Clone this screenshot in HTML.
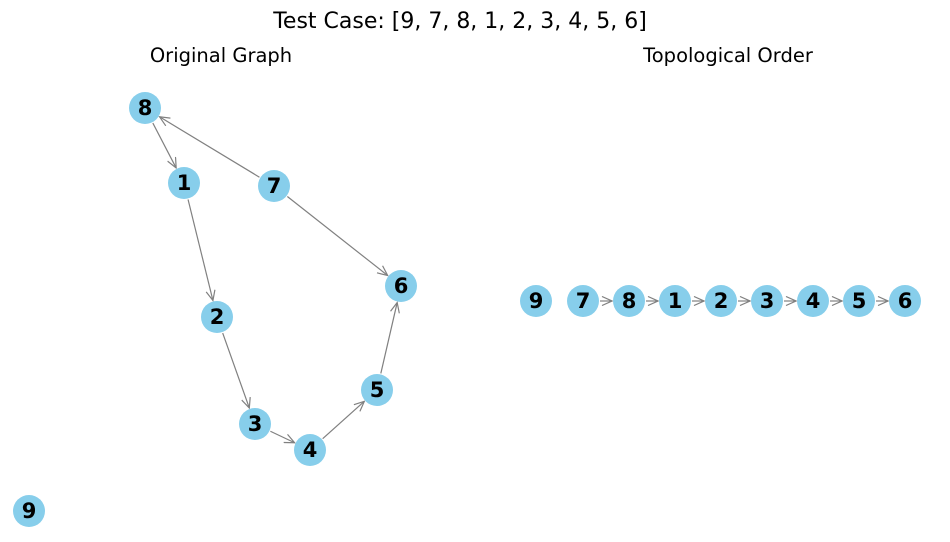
<!DOCTYPE html>
<html><head><meta charset="utf-8"><style>
html,body{margin:0;padding:0;background:#fff;}
svg{display:block;}
.n{fill:#87CEEB;}
.l{font-family:"DejaVu Sans","Liberation Sans",sans-serif;font-weight:bold;font-size:21px;text-anchor:middle;dominant-baseline:central;fill:#000;}
.t{font-family:"DejaVu Sans","Liberation Sans",sans-serif;text-anchor:middle;fill:#000;}
</style></head><body>
<svg id="s" width="950" height="542" viewBox="0 0 950 542" xmlns="http://www.w3.org/2000/svg">
<defs><marker id="a" markerWidth="12" markerHeight="10" refX="11" refY="5" orient="auto" markerUnits="userSpaceOnUse"><path d="M1,0.5 L11,5 L1,9.5" fill="none" stroke="#808080" stroke-width="1.2"/></marker></defs>
<text class="t" x="460" y="28" font-size="22">Test Case: [9, 7, 8, 1, 2, 3, 4, 5, 6]</text>
<text class="t" x="221" y="62" font-size="19.5">Original Graph</text>
<text class="t" x="728" y="62" font-size="19.5">Topological Order</text>
<g id="e"></g>
<g id="nodes">
<circle class="n" cx="145" cy="108" r="16"/><text class="l" x="145" y="108">8</text>
<circle class="n" cx="184" cy="183" r="16"/><text class="l" x="184" y="183">1</text>
<circle class="n" cx="274" cy="186" r="16"/><text class="l" x="274" y="186">7</text>
<circle class="n" cx="401" cy="286" r="16"/><text class="l" x="401" y="286">6</text>
<circle class="n" cx="217" cy="317" r="16"/><text class="l" x="217" y="317">2</text>
<circle class="n" cx="377" cy="390" r="16"/><text class="l" x="377" y="390">5</text>
<circle class="n" cx="255" cy="424" r="16"/><text class="l" x="255" y="424">3</text>
<circle class="n" cx="310" cy="450" r="16"/><text class="l" x="310" y="450">4</text>
<circle class="n" cx="29" cy="511" r="16"/><text class="l" x="29" y="511">9</text>
<circle class="n" cx="536" cy="301" r="16"/><text class="l" x="536" y="301">9</text>
<circle class="n" cx="583" cy="301" r="16"/><text class="l" x="583" y="301">7</text>
<circle class="n" cx="629" cy="301" r="16"/><text class="l" x="629" y="301">8</text>
<circle class="n" cx="675" cy="301" r="16"/><text class="l" x="675" y="301">1</text>
<circle class="n" cx="721" cy="301" r="16"/><text class="l" x="721" y="301">2</text>
<circle class="n" cx="767" cy="301" r="16"/><text class="l" x="767" y="301">3</text>
<circle class="n" cx="813" cy="301" r="16"/><text class="l" x="813" y="301">4</text>
<circle class="n" cx="859" cy="301" r="16"/><text class="l" x="859" y="301">5</text>
<circle class="n" cx="905" cy="301" r="16"/><text class="l" x="905" y="301">6</text>
</g>
</svg>
<script>
var P={8:[145,108],1:[184,183],7:[274,186],6:[401,286],2:[217,317],5:[377,390],3:[255,424],4:[310,450]};
var E=[[8,1],[7,8],[7,6],[1,2],[2,3],[3,4],[4,5],[5,6]];
var R=[583,629,675,721,767,813,859,905];
var segs=[];
E.forEach(function(e){segs.push([P[e[0]],P[e[1]]]);});
for(var i=0;i<R.length-1;i++)segs.push([[R[i],301],[R[i+1],301]]);
var g=document.getElementById('e'),h='';
segs.forEach(function(s){var a=s[0],b=s[1],dx=b[0]-a[0],dy=b[1]-a[1],d=Math.sqrt(dx*dx+dy*dy),ux=dx/d,uy=dy/d,r=17;
h+='<line x1="'+(a[0]+ux*r)+'" y1="'+(a[1]+uy*r)+'" x2="'+(b[0]-ux*r)+'" y2="'+(b[1]-uy*r)+'" stroke="#808080" stroke-width="1.2" marker-end="url(#a)"/>';});
g.innerHTML=h;
</script>
</body></html>
